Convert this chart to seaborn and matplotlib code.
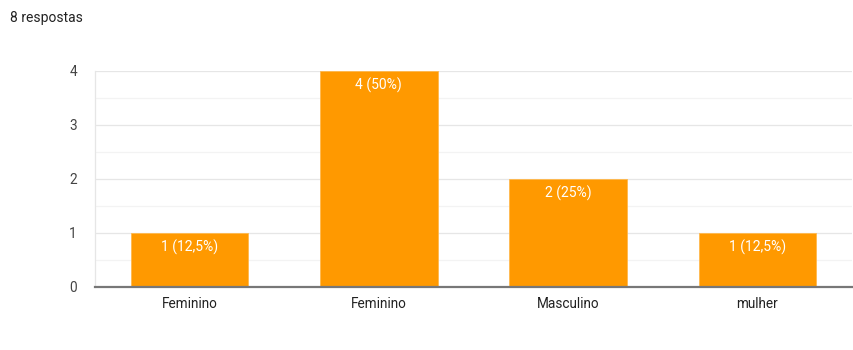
import matplotlib
matplotlib.use("Agg")
import matplotlib.pyplot as plt
import seaborn as sns
import pandas as pd
from matplotlib.ticker import MultipleLocator

categories = ["Feminino", "Feminino ", "Masculino", "mulher"]
tick_labels = ["Feminino", "Feminino", "Masculino", "mulher"]
values = [1, 4, 2, 1]
bar_labels = ["1 (12,5%)", "4 (50%)", "2 (25%)", "1 (12,5%)"]
title = "8 respostas"

sns.set_style("white")
plt.rcParams['font.family'] = ['Roboto', 'DejaVu Sans']

df = pd.DataFrame({"cat": categories, "val": values})

fig = plt.figure(figsize=(8.54, 3.5), dpi=100)
ax = fig.add_axes([95/854, 1-287/350, 757/854, 216/350])

sns.barplot(data=df, x="cat", y="val", color="#ff9900", saturation=1,
            width=0.62, ax=ax, zorder=3, edgecolor="#ffb84d", linewidth=0.6)

ax.set_ylim(0, 4)
ax.set_xlim(-0.5, 3.5)
ax.yaxis.set_major_locator(MultipleLocator(1))
ax.yaxis.set_minor_locator(MultipleLocator(0.5))
ax.grid(which="major", axis="y", color="#e6e6e6", linewidth=0.9, zorder=0)
ax.grid(which="minor", axis="y", color="#f3f3f3", linewidth=0.9, zorder=0)
ax.set_axisbelow(True)
ax.set_xlabel("")
ax.set_ylabel("")
ax.set_xticks(range(len(tick_labels)))
ax.set_xticklabels(tick_labels)
ax.tick_params(axis="both", which="both", length=0, labelsize=9.8, colors="#222222")
ax.tick_params(axis="x", pad=7)
ax.tick_params(axis="y", pad=13)
for lab in ax.get_yticklabels():
    lab.set_color("#444444")

for s in ["top", "right"]:
    ax.spines[s].set_visible(False)
ax.spines["left"].set_color("#e6e6e6")
ax.spines["left"].set_linewidth(0.9)
ax.spines["bottom"].set_color("#777777")
ax.spines["bottom"].set_linewidth(1.6)
ax.spines["bottom"].set_zorder(5)

for container in ax.containers:
    ax.bar_label(container, labels=bar_labels, label_type="edge", padding=-16,
                 color="white", fontsize=10)

fig.text(10/854, 1-18/350, title, fontsize=10, color="#222222", va="center", ha="left")

fig.savefig("out.png", dpi=100, facecolor="white")
